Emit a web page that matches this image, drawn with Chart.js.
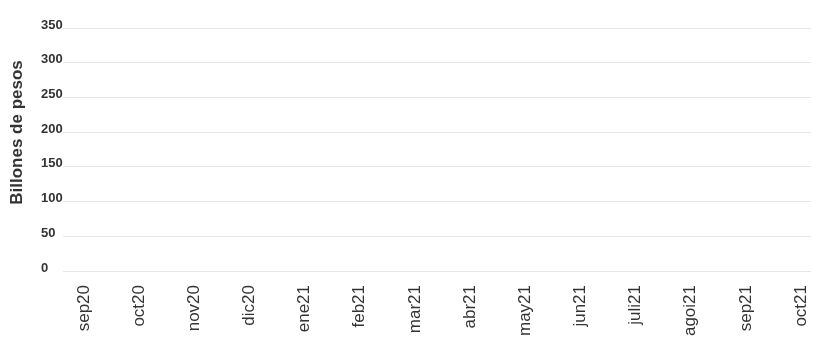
<!DOCTYPE html>
<html lang="es">
<head>
<meta charset="UTF-8">
<script src="https://cdn.jsdelivr.net/npm/chart.js"></script>
<title>Billones de pesos</title>
<style>
  body { margin: 0; background: #fff; }
  #wrap { width: 830px; height: 352px; }
</style>
</head>
<body>
<div id="wrap"><canvas id="grafica"></canvas></div>
<script>
// meses del eje x
const meses = ['sep20', 'oct20', 'nov20', 'dic20', 'ene21', 'feb21', 'mar21',
               'abr21', 'may21', 'jun21', 'juli21', 'agoi21', 'sep21', 'oct21'];
// no se ve ningun valor dibujado en la imagen
const valores = [null, null, null, null, null, null, null,
                 null, null, null, null, null, null, null];
const ticksY = [0, 50, 100, 150, 200, 250, 300, 350];

const fuente = "'Liberation Sans', Arial, Helvetica, sans-serif";
const gris = '#333333';

// sube un poco el titulo del eje y
const subirTitulo = {
  id: 'subirTitulo',
  afterLayout(chart) {
    chart.scales.y2.bottom -= 34;
  }
};

new Chart(document.getElementById('grafica'), {
  type: 'line',
  data: {
    datasets: [{
      data: valores.map((v, i) => ({ x: i, y: v })),
      borderColor: '#1f4e79',
      yAxisID: 'y'
    }]
  },
  options: {
    responsive: true,
    maintainAspectRatio: false,
    animation: false,
    layout: { padding: { top: 28, right: 19, left: 0, bottom: 0 } },
    plugins: { legend: { display: false }, tooltip: { enabled: false } },
    scales: {
      x: {
        type: 'linear',
        min: -0.38,
        max: 13.18,
        grid: { display: false },
        border: { display: false },
        afterBuildTicks: s => { s.ticks = meses.map((m, i) => ({ value: i })); },
        afterFit: s => { s.height = 81; s.paddingLeft = 0; s.paddingRight = 0; },
        ticks: {
          autoSkip: false,
          minRotation: 90,
          maxRotation: 90,
          padding: 6,
          color: gris,
          font: { family: fuente, size: 17 },
          callback: v => meses[v]
        }
      },
      y: {
        min: 0,
        max: 350,
        weight: 0,
        afterBuildTicks: s => { s.ticks = ticksY.map(v => ({ value: v })); },
        afterFit: s => { s.width = 22; },
        grid: { color: '#e6e6e6', drawTicks: false },
        border: { display: false },
        ticks: {
          crossAlign: 'far',
          labelOffset: -3,
          padding: 0,
          color: gris,
          font: { family: fuente, size: 13, weight: 'bold' }
        }
      },
      y2: {
        position: 'left',
        weight: 1,
        min: 0,
        max: 1,
        afterFit: s => { s.width = 41; },
        grid: { display: false },
        border: { display: false },
        ticks: { display: false },
        title: {
          display: true,
          text: 'Billones de pesos',
          color: gris,
          padding: { top: 7, bottom: 0 },
          font: { family: fuente, size: 17, weight: 'bold' }
        }
      }
    }
  },
  plugins: [subirTitulo]
});
</script>
</body>
</html>
